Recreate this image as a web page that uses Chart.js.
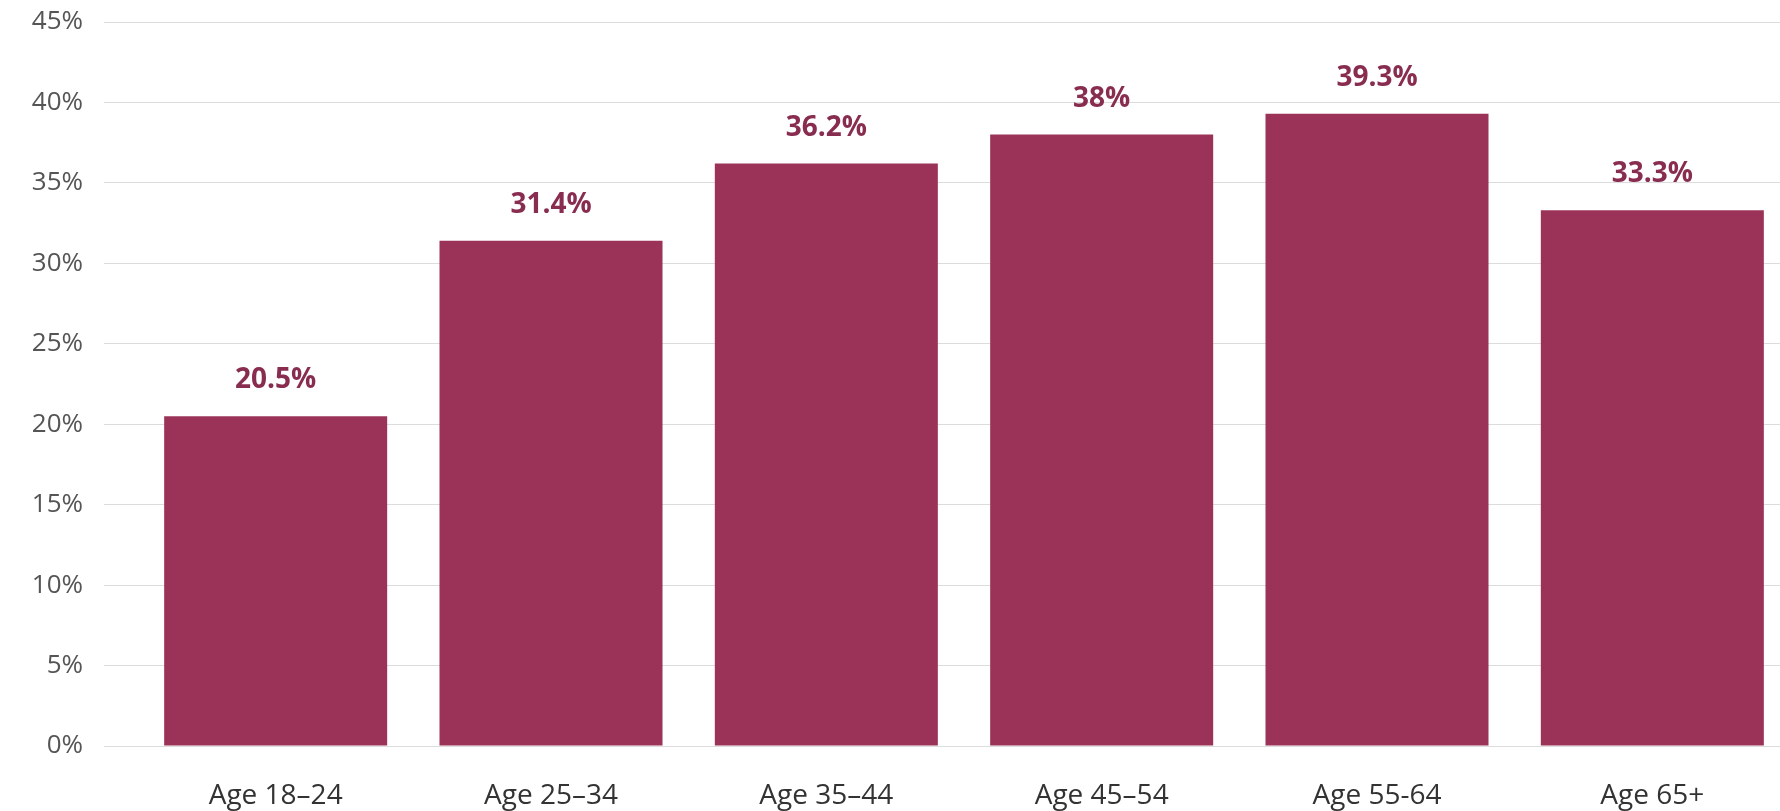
<!DOCTYPE html>
<html lang="en">
<head>
    <meta charset="UTF-8">
    <title>Share by age group</title>
    <script src="https://cdn.jsdelivr.net/npm/chart.js"></script>
    <style>
        html, body { margin: 0; padding: 0; background: #fff; overflow: hidden; }
        .janela { width: 1790px; height: 811px; position: relative; }
    </style>
</head>
<body>
    <div class="janela">
        <canvas id="graficoIdade"></canvas>
    </div>

<script>
    // dados
    const faixas = ['Age 18–24', 'Age 25–34', 'Age 35–44', 'Age 45–54', 'Age 55-64', 'Age 65+'];
    const valores = [20.5, 31.4, 36.2, 38, 39.3, 33.3];
    const ticksY = [0, 5, 10, 15, 20, 25, 30, 35, 40, 45];

    const corBarra = '#9b3358';
    const corRotulo = '#892d50';

    // rotulos em cima das barras
    const rotulosBarras = {
        id: 'rotulosBarras',
        afterDatasetsDraw(chart) {
            const ctx = chart.ctx;
            const meta = chart.getDatasetMeta(0);
            ctx.save();
            ctx.font = 'bold 28px "Open Sans"';
            ctx.fillStyle = corRotulo;
            ctx.textAlign = 'center';
            ctx.textBaseline = 'middle';
            meta.data.forEach((barra, i) => {
                ctx.fillText(valores[i] + '%', barra.x, barra.y - 36);
            });
            ctx.restore();
        }
    };

    const ctx = document.getElementById('graficoIdade');

    new Chart(ctx, {
        type: 'bar',
        data: {
            labels: faixas,
            datasets: [{
                data: valores,
                backgroundColor: corBarra,
                borderWidth: 0,
                barPercentage: 0.81,
                categoryPercentage: 1
            }]
        },
        options: {
            responsive: true,
            maintainAspectRatio: false,
            animation: false,
            layout: { padding: { top: 22, left: 0, right: 0, bottom: 0 } },
            plugins: {
                legend: { display: false },
                tooltip: { enabled: false }
            },
            scales: {
                x: {
                    grid: { display: false },
                    border: { display: false },
                    ticks: {
                        color: '#333',
                        font: { family: '"Open Sans"', size: 28 },
                        padding: 25
                    },
                    afterFit: s => { s.height = 65; }
                },
                y: {
                    min: 0,
                    max: 45,
                    afterBuildTicks: s => { s.ticks = ticksY.map(v => ({ value: v })); },
                    grid: {
                        color: '#dcdcdc',
                        lineWidth: 1,
                        drawTicks: true,
                        tickLength: 34,
                        tickColor: '#dcdcdc'
                    },
                    border: { display: false },
                    ticks: {
                        color: '#555',
                        font: { family: '"Open Sans"', size: 26 },
                        padding: 21,
                        callback: v => v + '%'
                    },
                    afterFit: s => { s.width = 138; s.paddingTop = 0; }
                }
            }
        },
        plugins: [rotulosBarras]
    });
</script>
</body>
</html>
